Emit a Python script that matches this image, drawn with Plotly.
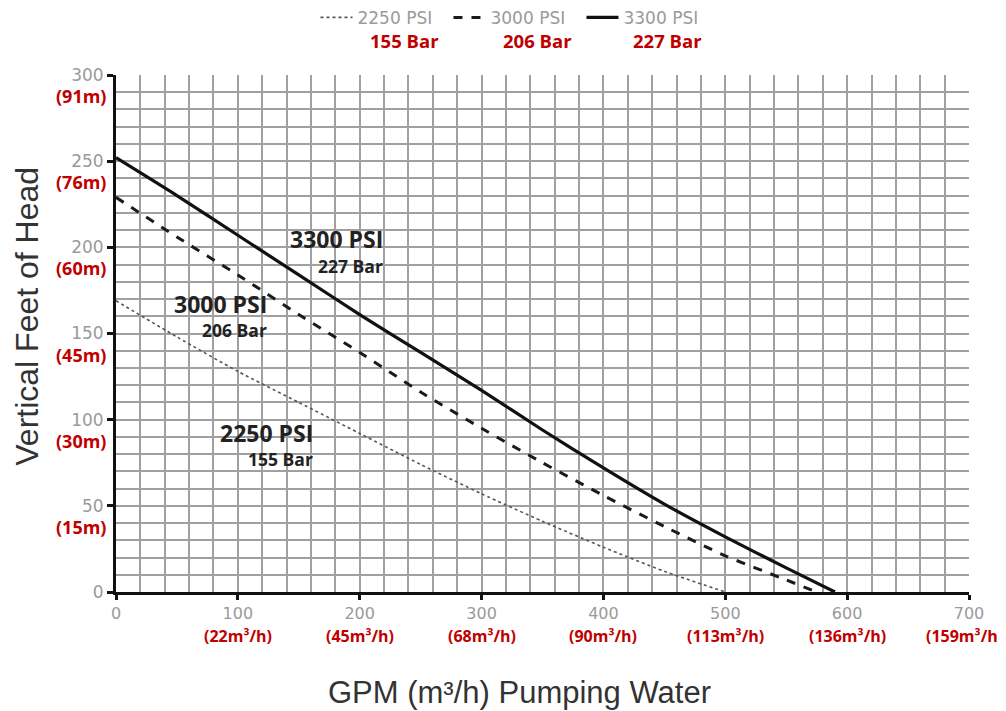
import plotly.graph_objects as go

# ---- data ----
gpm_2250 = [0, 50, 100, 150, 200, 250, 300, 350, 400, 450, 500]
head_2250 = [169, 148, 128, 110, 92, 74, 57, 41, 26, 12, 0]

gpm_3000 = [0, 50, 100, 150, 200, 250, 300, 350, 400, 450, 500, 550, 575]
head_3000 = [229, 206, 184, 161, 139, 116, 95, 75, 56, 38, 21, 7, 0]

gpm_3300 = [0, 50, 100, 150, 200, 250, 300, 350, 400, 450, 500, 550, 590]
head_3300 = [252, 230, 207, 184, 161, 139, 117, 94, 72, 51, 32, 14, 0]

series_names = ["2250 PSI", "3000 PSI", "3300 PSI"]
series_bar = ["155 Bar", "206 Bar", "227 Bar"]

x_ticks = [0, 100, 200, 300, 400, 500, 600, 700]
x_metric = ["", "(22m³/h)", "(45m³/h)", "(68m³/h)", "(90m³/h)", "(113m³/h)", "(136m³/h)", "(159m³/h)"]
y_ticks = [0, 50, 100, 150, 200, 250, 300]
y_metric = ["", "(15m)", "(30m)", "(45m)", "(60m)", "(76m)", "(91m)"]

RED = "#c00000"
GRID = "#a0a0a0"
TICKGREY = "#9a9a9a"

fig = go.Figure()
fig.add_trace(go.Scatter(x=gpm_2250, y=head_2250, mode="lines", name=series_names[0],
                         line=dict(color="#555555", width=1.6, dash="dot", shape="spline", smoothing=0.6)))
fig.add_trace(go.Scatter(x=gpm_3000, y=head_3000, mode="lines", name=series_names[1],
                         line=dict(color="#1a1a1a", width=3, dash="dash", shape="spline", smoothing=0.6)))
fig.add_trace(go.Scatter(x=gpm_3300, y=head_3300, mode="lines", name=series_names[2],
                         line=dict(color="#111111", width=3.2, shape="spline", smoothing=0.6)))

ann = []
# metric labels under y ticks
for v, t in zip(y_ticks, y_metric):
    if t:
        ann.append(dict(x=0, xref="paper", y=v, yref="y", text="<b>" + t + "</b>",
                        showarrow=False, xanchor="right", yanchor="middle", xshift=-8, yshift=-21,
                        font=dict(family="Open Sans", size=18, color=RED)))
# metric labels under x ticks
for i, (v, t) in enumerate(zip(x_ticks, x_metric)):
    if t:
        last = i == len(x_ticks) - 1
        ann.append(dict(x=v, xref="x", y=0, yref="paper", text="<b>" + t + "</b>",
                        showarrow=False, xanchor="right" if last else "center", yanchor="middle",
                        xshift=36 if last else 0, yshift=-44,
                        font=dict(family="Open Sans", size=16, color=RED)))
# red Bar labels under legend
for xp, t in zip([0.3388, 0.4947, 0.646], series_bar):
    ann.append(dict(x=xp, xref="paper", y=1, yref="paper", text="<b>" + t + "</b>",
                    showarrow=False, xanchor="center", yanchor="middle", yshift=35,
                    font=dict(family="Open Sans", size=18.5, color=RED)))
# curve labels
curve_lbl = [(220.5, 205, 189), (125.5, 167, 152), (163.5, 92, 77)]
order = [2, 1, 0]
for (xr, y1, y2), idx in zip(curve_lbl, order):
    ann.append(dict(x=xr, y=y1, xref="x", yref="y", text="<b>" + series_names[idx] + "</b>",
                    showarrow=False, xanchor="right", yanchor="middle",
                    font=dict(family="Open Sans", size=23, color="#222222")))
    ann.append(dict(x=xr, y=y2, xref="x", yref="y", text="<b>" + series_bar[idx] + "</b>",
                    showarrow=False, xanchor="right", yanchor="middle",
                    font=dict(family="Open Sans", size=17.5, color="#222222")))
# axis titles
ann.append(dict(x=-0.104, xref="paper", y=0.533, yref="paper", text="Vertical Feet of Head",
                showarrow=False, textangle=-90, xanchor="center", yanchor="middle",
                font=dict(family="Liberation Sans", size=32, color="#333333")))
ann.append(dict(x=0.473, xref="paper", y=0, yref="paper", text="GPM (m³/h) Pumping Water",
                showarrow=False, xanchor="center", yanchor="middle", yshift=-100,
                font=dict(family="Liberation Sans", size=31, color="#333333")))

fig.update_layout(
    width=998, height=703,
    margin=dict(l=108, r=37, t=67, b=119, autoexpand=False),
    paper_bgcolor="white", plot_bgcolor="white",
    showlegend=True,
    legend=dict(orientation="h", x=0.508, xanchor="center", y=0.986, yanchor="middle",
                xref="container", yref="container",
                font=dict(family="DejaVu Sans", size=17, color=TICKGREY),
                itemwidth=32, entrywidth=86, entrywidthmode="pixels",
                bgcolor="rgba(0,0,0,0)"),
    annotations=ann,
    xaxis=dict(range=[0, 700], tickvals=x_ticks, ticktext=[str(v) for v in x_ticks],
               showgrid=True, gridcolor=GRID, gridwidth=2,
               minor=dict(dtick=20, showgrid=True, gridcolor=GRID, gridwidth=2),
               showline=True, linecolor="#111111", linewidth=3,
               ticks="outside", ticklen=5, tickwidth=3, tickcolor="#111111",
               tickfont=dict(family="DejaVu Sans", size=16, color=TICKGREY),
               zeroline=False, fixedrange=True, automargin=False),
    yaxis=dict(range=[0, 300], tickvals=y_ticks, ticktext=[str(v) for v in y_ticks],
               showgrid=True, gridcolor=GRID, gridwidth=2,
               minor=dict(dtick=10, showgrid=True, gridcolor=GRID, gridwidth=2),
               showline=True, linecolor="#111111", linewidth=3,
               ticks="outside", ticklen=6, tickwidth=3, tickcolor="#111111",
               tickfont=dict(family="DejaVu Sans", size=17, color=TICKGREY),
               zeroline=False, fixedrange=True, automargin=False),
)

fig.write_html("out.html")
